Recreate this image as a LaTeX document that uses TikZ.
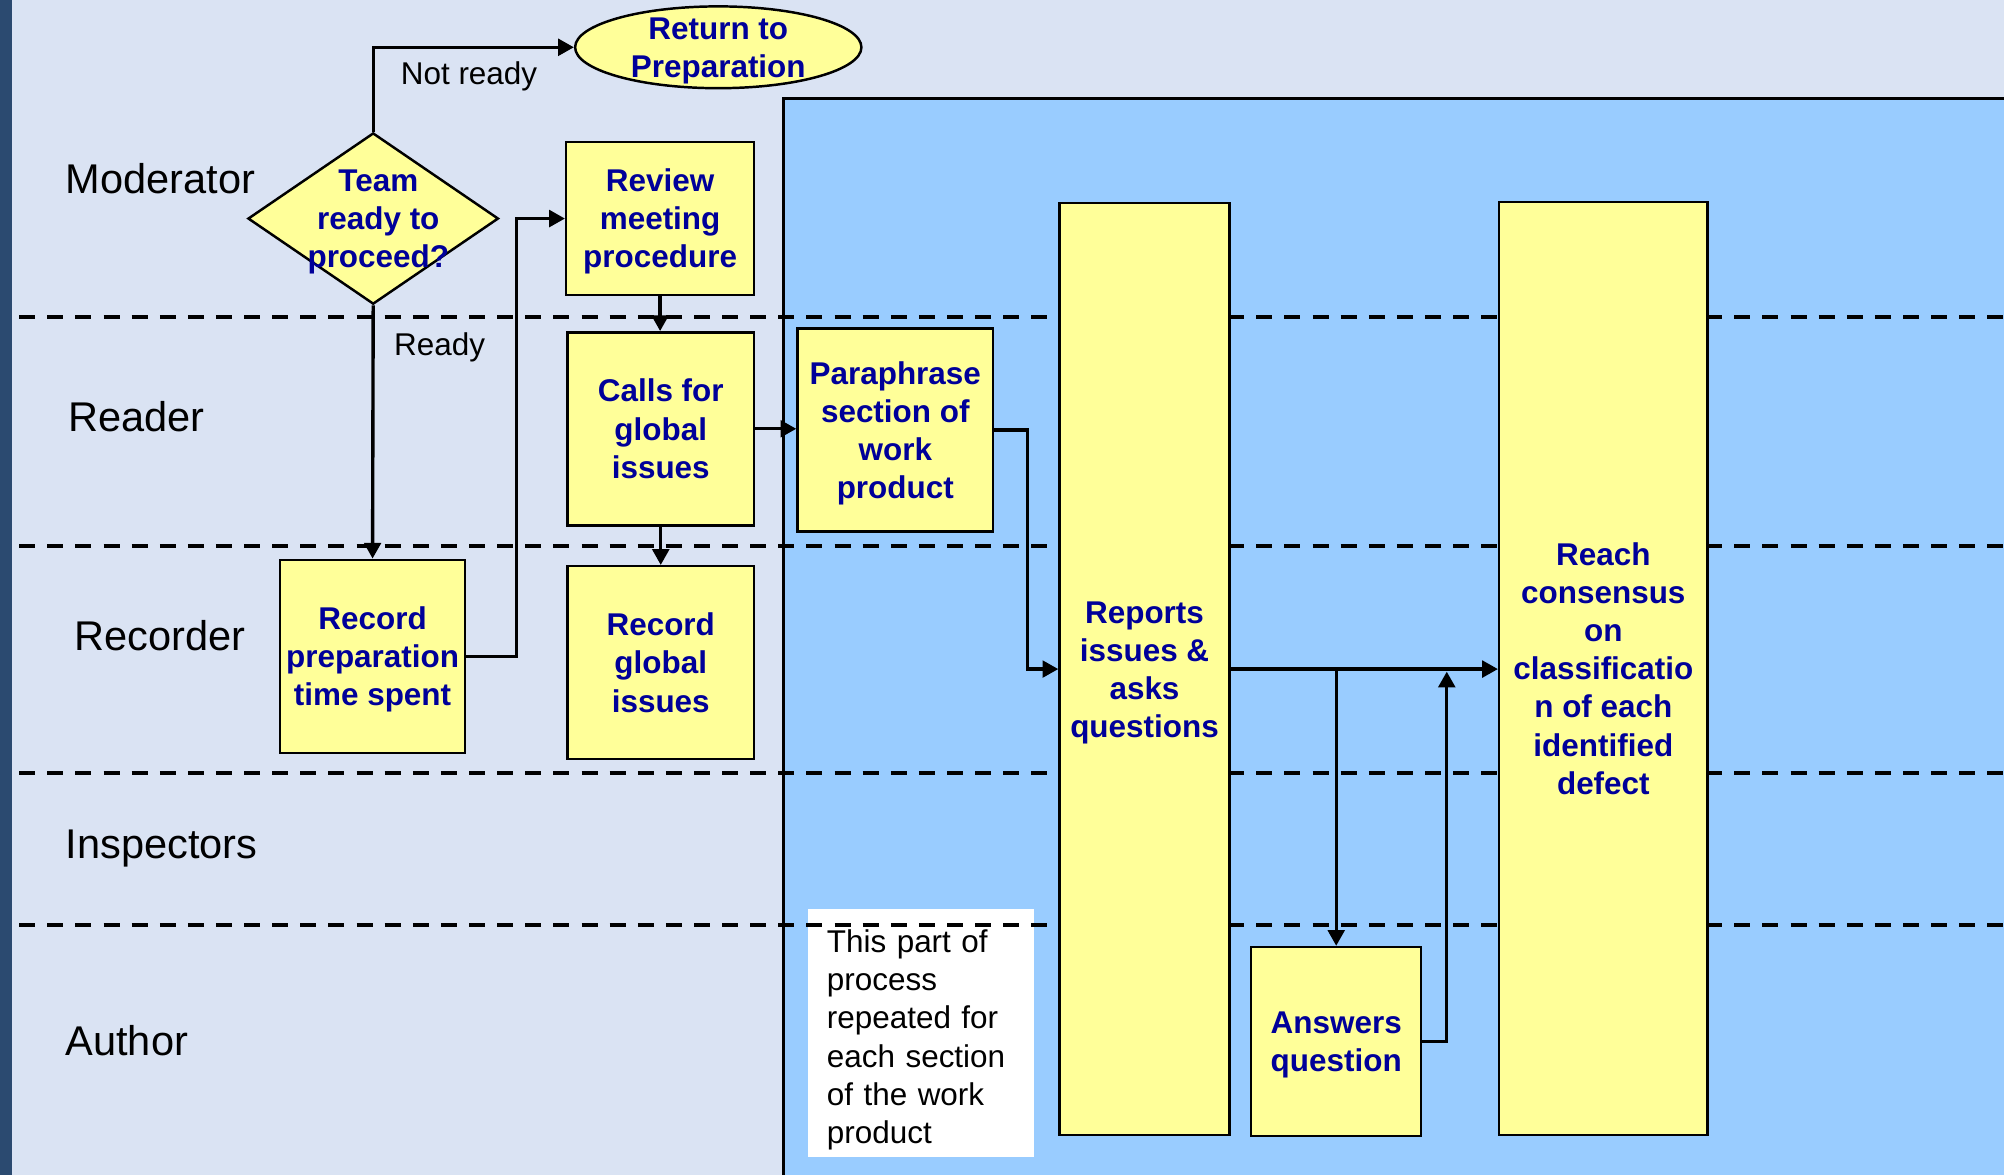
\documentclass[tikz,border=0pt]{standalone}
\usepackage{fontspec}
\setmainfont{Liberation Sans}
\usetikzlibrary{arrows.meta,shapes.geometric}
\tikzset{>={Triangle[length=7pt,width=7.4pt]}}
\usepackage{xcolor}

\definecolor{lanebg}{HTML}{DAE3F3}
\definecolor{strip}{HTML}{2B4A70}
\definecolor{shade}{HTML}{99CCFF}
\definecolor{sticky}{HTML}{FFFF99}
\definecolor{navy}{HTML}{000099}

% even out first line height and last line depth
\newcommand{\lift}{\rule{0pt}{13pt}}
\newcommand{\botstrut}{\rule[-3pt]{0pt}{3pt}}

\tikzset{
  lane/.style={anchor=west, inner xsep=0pt, font=\fontsize{18.5}{22}\selectfont},
  btext/.style={font=\bfseries\fontsize{14}{17}\selectfont, text=navy, align=center,
                execute at end node=\botstrut},
  sbox/.style={draw, line width=1.1pt, fill=sticky, inner sep=0pt, btext},
  flow/.style={->, line width=1.5pt},
  swim/.style={line width=1.8pt, dash pattern=on 2.5mm off 1.9mm},
  small/.style={font=\fontsize{14}{17}\selectfont}
}

\begin{document}
\begin{tikzpicture}[x=0.2mm,y=-0.2mm]
        \clip (0,0) rectangle (1568,919);
        \fill[lanebg] (0,0) rectangle (1568,919);
        \fill[strip] (0,0) rectangle (9.5,919);

        %repeated part of the meeting
        \filldraw[fill=shade, line width=1.4pt] (613,77) rectangle (1600,950);
        \node[fill=white, small, align=left, inner xsep=3mm, text width=29.4mm,
              minimum width=35.4mm, minimum height=38.2mm,
              execute at begin node=\rule{0pt}{16pt}] (note) at (720.5,808.5)
              {This part of\\process\\repeated for\\each section\\of the work\\product};

        %swim lanes
        \foreach \y in {248,427,605,724}
            \draw[swim] (15,\y) -- (1568,\y);

        \node[lane] (moderator) at (51,140) {Moderator};
        \node[lane] (reader) at (53,326) {Reader};
        \node[lane] (recorder) at (58,497) {Recorder};
        \node[lane] (inspectors) at (51,664) {Inspectors};
        \node[lane] (author) at (51,814) {Author};

        %steps
        \node[shape=ellipse, draw, fill=sticky, line width=1.1pt, inner sep=0pt,
              minimum width=44.8mm, minimum height=12.8mm] (ret) at (562,37) {};
        \node[btext] (rettext) at (ret) {\lift Return to\\Preparation};

        \node[shape=diamond, draw, fill=sticky, line width=1.1pt, inner sep=0pt,
              minimum width=39.2mm, minimum height=26.8mm] (team) at (292,171) {};
        \node[btext] (teamtext) at (296,171) {\lift Team\\ready to\\proceed?};

        \node[sbox, minimum width=29.4mm, minimum height=24mm] (review) at (516.5,171) {\lift Review\\meeting\\procedure};
        \node[sbox, minimum width=29.2mm, minimum height=30.2mm] (calls) at (517,335.5) {\lift Calls for\\global\\issues};
        \node[sbox, minimum width=29.2mm, minimum height=30.2mm] (recglobal) at (517,518.5) {\lift Record\\global\\issues};
        \node[sbox, minimum width=29mm, minimum height=30.2mm] (recprep) at (291.5,513.5) {\lift Record\\preparation\\time spent};
        \node[sbox, minimum width=30.6mm, minimum height=31.8mm] (para) at (700.5,336.5) {\lift Paraphrase\\section of\\work\\product};
        \node[sbox, minimum width=26.6mm, minimum height=145.8mm] (reports) at (895.5,523.5) {\lift Reports\\issues \&\\asks\\questions};
        \node[sbox, minimum width=32.6mm, minimum height=146mm] (consensus) at (1254.5,523) {\lift Reach\\consensus\\on\\classificatio\\n of each\\identified\\defect};
        \node[sbox, minimum width=26.6mm, minimum height=29.6mm] (answers) at (1045.5,815) {\lift Answers\\question};

        %flow
        \draw[flow] (team.north) |- (ret.west);
        \node[small] (notready) at (367,60) {Not ready};
        \draw[flow] (team.south) -- (recprep.north);
        \node[small] (ready) at (344,272) {Ready};
        \draw[flow] (recprep.east) -- ++(39,0) |- (review.west);
        \draw[flow] (review.south) -- (review.south |- calls.north);
        \draw[flow] (calls.south) -- (calls.south |- recglobal.north);
        \draw[flow] (calls.east) -- (calls.east -| para.west);
        \draw[flow] (para.east) -- ++(26,0) |- (reports.west);
        \draw[flow] (reports.east) -- (reports.east -| consensus.west);
        \draw[flow] (reports.east -| answers.north) -- (answers.north);
        \coordinate (merge) at (1132,525.5);
        \draw[flow] (answers.east) -| (merge);

\end{tikzpicture}
\end{document}
